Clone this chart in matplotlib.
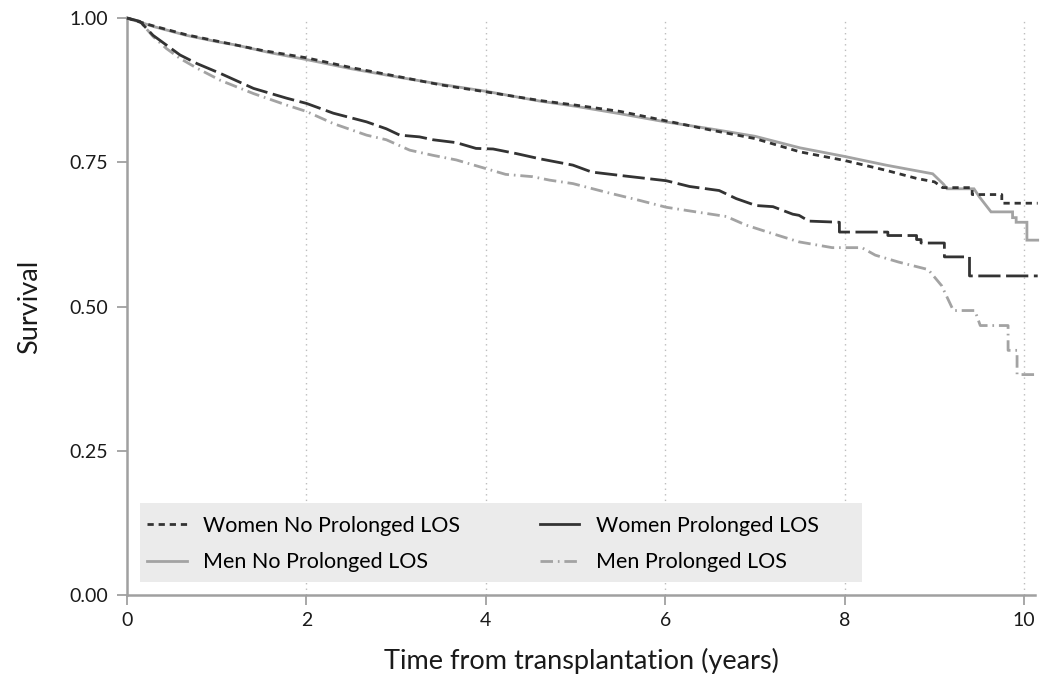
import matplotlib
matplotlib.use("Agg")
import matplotlib.pyplot as plt
from matplotlib.lines import Line2D
from matplotlib.patches import Rectangle

plt.rcParams['font.family'] = ['Lato', 'DejaVu Sans']
plt.rcParams['lines.scale_dashes'] = False

# ---- data (years, survival) ----
mnp_t = [0, 0.1, 0.3, 0.66, 1.0, 1.22, 1.59, 2.0, 2.5, 3.04, 3.5, 4.0, 4.6, 5.0, 5.5, 6.0, 6.5, 7.0, 7.5,
         8.0, 8.46, 8.98, 9.1, 9.14, 9.44, 9.5, 9.55, 9.6, 9.63, 9.87, 9.87, 9.91, 9.91, 10.03, 10.03, 10.15]
mnp_s = [1.0, 0.995, 0.985, 0.970, 0.959, 0.953, 0.940, 0.928, 0.912, 0.897, 0.885, 0.873, 0.856, 0.847, 0.834,
         0.820, 0.808, 0.795, 0.775, 0.760, 0.745, 0.730, 0.712, 0.704, 0.704, 0.690, 0.680, 0.670, 0.664, 0.664,
         0.654, 0.654, 0.646, 0.646, 0.615, 0.615]

wnp_t = [0, 0.1, 0.3, 0.66, 1.0, 1.5, 2.0, 2.5, 3.04, 3.5, 4.0, 4.6, 5.0, 5.5, 6.0, 6.5, 7.0, 7.5, 8.0, 8.46,
         8.8, 9.0, 9.09, 9.42, 9.42, 9.75, 9.75, 10.15]
wnp_s = [1.0, 0.995, 0.986, 0.971, 0.960, 0.944, 0.931, 0.914, 0.898, 0.884, 0.872, 0.857, 0.849, 0.838, 0.822,
         0.806, 0.791, 0.768, 0.753, 0.736, 0.722, 0.716, 0.706, 0.706, 0.694, 0.694, 0.679, 0.679]

wp_t = [0, 0.145, 0.29, 0.44, 0.59, 0.78, 1.04, 1.41, 1.78, 2.0, 2.3, 2.67, 2.89, 3.04, 3.26, 3.41, 3.67, 3.89,
        4.08, 4.34, 4.6, 4.97, 5.18, 5.56, 6.01, 6.27, 6.6, 6.79, 7.01, 7.2, 7.42, 7.49, 7.6, 7.94, 7.94, 8.48,
        8.48, 8.8, 8.8, 8.85, 8.85, 9.11, 9.11, 9.39, 9.39, 10.15]
wp_s = [1.0, 0.994, 0.970, 0.953, 0.936, 0.921, 0.904, 0.878, 0.861, 0.852, 0.835, 0.820, 0.808, 0.797, 0.794,
        0.789, 0.784, 0.774, 0.773, 0.765, 0.756, 0.745, 0.733, 0.726, 0.718, 0.708, 0.701, 0.687, 0.675, 0.673,
        0.660, 0.658, 0.648, 0.646, 0.629, 0.629, 0.623, 0.623, 0.616, 0.616, 0.610, 0.610, 0.586, 0.586, 0.553,
        0.553]

mp_t = [0, 0.145, 0.29, 0.44, 0.59, 0.78, 1.04, 1.41, 1.78, 2.0, 2.3, 2.67, 2.89, 3.15, 3.41, 3.67, 4.0, 4.22,
        4.52, 4.71, 4.97, 5.34, 5.71, 6.01, 6.34, 6.68, 6.9, 7.2, 7.49, 7.86, 8.19, 8.34, 8.6, 8.93, 9.08, 9.21,
        9.45, 9.51, 9.82, 9.82, 9.92, 9.92, 10.12]
mp_s = [1.0, 0.994, 0.968, 0.947, 0.930, 0.913, 0.892, 0.869, 0.849, 0.838, 0.817, 0.797, 0.789, 0.771, 0.762,
        0.754, 0.739, 0.729, 0.725, 0.719, 0.713, 0.698, 0.684, 0.672, 0.664, 0.656, 0.641, 0.626, 0.612, 0.602,
        0.602, 0.589, 0.577, 0.564, 0.536, 0.493, 0.493, 0.467, 0.467, 0.424, 0.424, 0.382, 0.382]

labels = ["Women No Prolonged LOS", "Men No Prolonged LOS", "Women Prolonged LOS", "Men Prolonged LOS"]
xticks = [0, 2, 4, 6, 8, 10]
yticks = [0.0, 0.25, 0.5, 0.75, 1.0]
ytick_labels = ["0.00", "0.25", "0.50", "0.75", "1.00"]

dark = "#333333"
light = "#a3a3a3"
axis_col = "#a0a0a0"

fig = plt.figure(figsize=(10.49, 6.77), dpi=100)
ax = fig.add_axes([127/1049, 1 - 595/677, 908/1049, 577/677])

for g in [2, 4, 6, 8, 10]:
    ax.axvline(g, color="#bdbdbd", lw=1.0, ls=(0, (1, 3)), zorder=0)

ax.plot(mnp_t, mnp_s, color=light, lw=2.0, solid_joinstyle='miter', clip_on=False, zorder=3)
ax.plot(wnp_t, wnp_s, color=dark, lw=2.0, ls=(0, (4.5, 3.5)), clip_on=False, zorder=4)
ax.plot(wp_t, wp_s, color=dark, lw=2.0, ls=(0, (16, 4)), clip_on=False, zorder=4)
ax.plot(mp_t, mp_s, color=light, lw=2.0, ls=(0, (9, 3.5, 1.2, 3.5)), clip_on=False, zorder=3)

ax.set_xlim(0, 10.12)
ax.set_ylim(0, 1.0)
ax.set_xticks(xticks)
ax.set_yticks(yticks)
ax.set_yticklabels(ytick_labels)

for s in ["top", "right"]:
    ax.spines[s].set_visible(False)
for s in ["left", "bottom"]:
    ax.spines[s].set_color(axis_col)
    ax.spines[s].set_linewidth(1.8)
ax.tick_params(axis='both', colors=axis_col, labelcolor="#1a1a1a", length=7.5, width=1.3,
               labelsize=14, pad=5)
ax.tick_params(axis='y', pad=6)

ax.set_xlabel("Time from transplantation (years)", fontsize=19.5, color="#1a1a1a", labelpad=13)
ax.set_ylabel("Survival", fontsize=19.5, color="#1a1a1a", labelpad=20)

# legend background box
x0 = (140 - 127) / 908
x1 = (862 - 127) / 908
y0 = (595 - 582) / 577
y1 = (595 - 503) / 577
ax.add_patch(Rectangle((x0, y0), x1 - x0, y1 - y0, transform=ax.transAxes,
                       facecolor="#ebebeb", edgecolor="none", zorder=1))

handles = [
    Line2D([], [], color=dark, lw=2.0, ls=(0, (4.5, 3.5))),
    Line2D([], [], color=light, lw=2.0),
    Line2D([], [], color=dark, lw=2.0),
    Line2D([], [], color=light, lw=2.0, ls=(0, (9, 3.5, 1.2, 3.5))),
]
leg = ax.legend(handles, labels, ncol=2, loc="upper left",
                bbox_to_anchor=((147 - 127) / 908, (595 - 516) / 577),
                frameon=False, fontsize=15.5, handlelength=1.85,
                borderaxespad=0, borderpad=0, labelspacing=0.75, handletextpad=0.75,
                columnspacing=3.7)
leg.set_zorder(5)

fig.savefig("out.png", dpi=100)
